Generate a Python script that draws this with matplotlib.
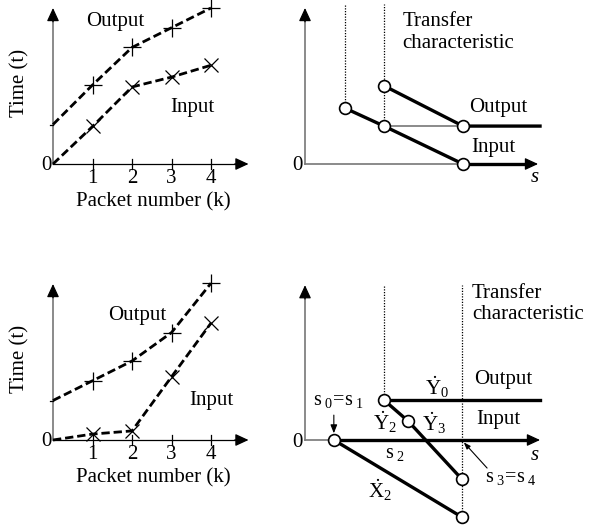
import matplotlib
matplotlib.use("Agg")
import matplotlib.pyplot as plt

plt.rcParams['font.family'] = ['Liberation Serif', 'DejaVu Serif']
plt.rcParams['mathtext.fontset'] = 'custom'
plt.rcParams['mathtext.rm'] = 'Liberation Serif'
plt.rcParams['mathtext.it'] = 'Liberation Serif:italic'

# packet number vs time (left panels)
k = [0, 1, 2, 3, 4]
out_top = [1.0, 2.0, 2.95, 3.45, 3.95]
in_top = [0.0, 0.95, 1.95, 2.2, 2.5]
out_bot = [1.0, 1.5, 2.0, 2.72, 3.97]
in_bot = [0.0, 0.15, 0.23, 1.6, 2.96]
k_ticks = [1, 2, 3, 4]

# transfer characteristic, top right
tr_in_s = [1.0, 2.0, 4.0]
tr_in_y = [1.42, 0.96, 0.0]
tr_out_s = [2.0, 4.0]
tr_out_y = [1.98, 0.96]

# transfer characteristic, bottom right
br_s0 = 0.73
br_out_s = [2.0]
br_out_y = [1.01]
br_y_s = [2.0, 2.61, 3.97]
br_y_y = [1.01, 0.48, -0.99]
br_x_s = [0.73, 3.97]
br_x_y = [0.0, -1.95]

W, H = 589, 529
U = 39.5  # px per unit
fig = plt.figure(figsize=(W / 100, H / 100), dpi=100)

FS = 15
GRAY = '#777777'


def panel(x0, y0, w, h, ox, oy):
    ax = fig.add_axes([x0 / W, 1 - (y0 + h) / H, w / W, h / H])
    ax.set_xlim((x0 - ox) / U, (x0 + w - ox) / U)
    ax.set_ylim((oy - (y0 + h)) / U, (oy - y0) / U)
    ax.axis('off')
    return ax


def arrowhead(ax, x0, y0, x1, y1, color='black'):
    ax.annotate('', xy=(x1, y1), xytext=(x0, y0),
                arrowprops=dict(arrowstyle='-|>,head_length=0.8,head_width=0.37',
                                mutation_scale=10, color=color, lw=0.9,
                                shrinkA=0, shrinkB=0), annotation_clip=False)


def left_panel(ax, out, inp, out_lab, in_lab):
    ax.plot([0, 0], [0, 3.7], color=GRAY, lw=1.2)
    arrowhead(ax, 0, 3.6, 0, 3.95)
    ax.plot([0, 4.7], [0, 0], color='black', lw=0.9)
    arrowhead(ax, 4.6, 0, 4.95, 0)
    for t in k_ticks:
        ax.plot([t, t], [-0.13, 0.13], color='black', lw=0.9)
        ax.text(t, -0.36, str(t), ha='center', va='center', fontsize=FS)
    ax.plot([-0.08, 0.0], [1.0, 1.0], color='black', lw=0.9)
    ax.text(-0.04, -0.04, '0', ha='right', va='center', fontsize=FS)
    ax.plot(k, out, color='black', lw=2.0, dashes=(3, 1.4))
    ax.plot(k, inp, color='black', lw=2.0, dashes=(3, 1.4))
    ax.plot(k[1:], out[1:], ls='none', marker='+', ms=13, mew=0.9, color='black')
    ax.plot(k[1:], inp[1:], ls='none', marker='x', ms=10, mew=0.9, color='black')
    ax.text(-0.84, 2.05, 'Time (t)', rotation=90, ha='center', va='center', fontsize=FS)
    ax.text(2.53, -0.96, 'Packet number (k)', ha='center', va='center', fontsize=FS)
    ax.text(out_lab[0], out_lab[1], 'Output', ha='center', va='center', fontsize=FS)
    ax.text(in_lab[0], in_lab[1], 'Input', ha='center', va='center', fontsize=FS)


circ = dict(ls='none', marker='o', ms=8.5, mfc='white', mec='black', mew=1.2, zorder=5)

# top left
ax1 = panel(0, 0, 290, 220, 53, 164)
left_panel(ax1, out_top, in_top, (1.57, 3.62), (3.52, 1.44))

# bottom left
ax3 = panel(0, 250, 290, 279, 53, 440)
left_panel(ax3, out_bot, in_bot, (2.13, 3.16), (4.0, 1.01))

# top right
ax2 = panel(290, 0, 299, 220, 305, 164)
ax2.plot([0, 0], [0, 3.7], color=GRAY, lw=1.2)
arrowhead(ax2, 0, 3.6, 0, 3.95)
ax2.plot([0, tr_in_s[-1]], [0, 0], color=GRAY, lw=1.2)
ax2.plot([tr_in_s[-1], 5.6], [0, 0], color='black', lw=2.4)
arrowhead(ax2, 5.5, 0, 5.9, 0)
ax2.plot([tr_in_s[0]] * 2, [tr_in_y[0], 4.05], color='black', lw=0.9, dashes=(1, 1.2))
ax2.plot([tr_out_s[0]] * 2, [tr_in_y[1], 4.05], color='black', lw=0.9, dashes=(1, 1.2))
ax2.plot([tr_in_s[1], tr_out_s[1]], [tr_in_y[1], tr_out_y[1]], color=GRAY, lw=1.2)
ax2.plot(tr_in_s, tr_in_y, color='black', lw=2.4)
ax2.plot(tr_out_s + [5.95], tr_out_y + [tr_out_y[-1]], color='black', lw=2.4)
ax2.plot(tr_in_s, tr_in_y, **circ)
ax2.plot(tr_out_s, tr_out_y, **circ)
ax2.text(-0.05, -0.04, '0', ha='right', va='center', fontsize=FS)
ax2.text(5.82, -0.33, 's', ha='center', va='center', fontsize=FS, style='italic')
ax2.text(2.46, 3.33, 'Transfer\ncharacteristic', ha='left', va='center',
         fontsize=FS, linespacing=1.15)
ax2.text(4.89, 1.42, 'Output', ha='center', va='center', fontsize=FS)
ax2.text(4.76, 0.41, 'Input', ha='center', va='center', fontsize=FS)

# bottom right
ax4 = panel(290, 250, 299, 279, 305, 440)
ax4.plot([0, 0], [0, 3.67], color=GRAY, lw=1.2)
arrowhead(ax4, 0, 3.57, 0, 3.92)
ax4.plot([0, br_s0], [0, 0], color=GRAY, lw=1.2)
ax4.plot([br_s0, 5.6], [0, 0], color='black', lw=2.4)
arrowhead(ax4, 5.55, 0, 5.95, 0)
ax4.plot([br_y_s[0]] * 2, [br_y_y[0], 3.92], color='black', lw=0.9, dashes=(1, 1.2))
ax4.plot([br_y_s[-1]] * 2, [br_x_y[-1], 3.92], color='black', lw=0.9, dashes=(1, 1.2))
ax4.plot(br_out_s + [5.95], br_out_y + [br_out_y[0]], color='black', lw=2.4)
ax4.plot(br_y_s, br_y_y, color='black', lw=2.4)
ax4.plot(br_x_s, br_x_y, color='black', lw=2.4)
ax4.plot(br_y_s, br_y_y, **circ)
ax4.plot(br_x_s, br_x_y, **circ)
ax4.text(-0.05, -0.06, '0', ha='right', va='center', fontsize=FS)
ax4.text(5.82, -0.38, 's', ha='center', va='center', fontsize=FS, style='italic')
ax4.text(4.23, 3.45, 'Transfer\ncharacteristic', ha='left', va='center',
         fontsize=FS, linespacing=1.15)
ax4.text(5.01, 1.52, 'Output', ha='center', va='center', fontsize=FS)
ax4.text(4.89, 0.53, 'Input', ha='center', va='center', fontsize=FS)
ax4.text(3.34, 1.34, r'$\dot{\mathrm{Y}}_0$', ha='center', va='center', fontsize=FS)
ax4.text(2.02, 0.46, r'$\dot{\mathrm{Y}}_2$', ha='center', va='center', fontsize=FS)
ax4.text(3.27, 0.43, r'$\dot{\mathrm{Y}}_3$', ha='center', va='center', fontsize=FS)
ax4.text(1.9, -1.27, r'$\dot{\mathrm{X}}_2$', ha='center', va='center', fontsize=FS)
ax4.text(0.84, 1.01, r'$\mathrm{s}_{\ 0}\!=\!\mathrm{s}_{\ 1}$', ha='center', va='center', fontsize=14.5)
ax4.text(2.28, -0.33, r'$\mathrm{s}_{\ 2}$', ha='center', va='center', fontsize=14.5)
ax4.text(5.22, -0.96, r'$\mathrm{s}_{\ 3}\!=\!\mathrm{s}_{\ 4}$', ha='center', va='center', fontsize=14.5)
ax4.annotate('', xy=(br_s0, 0.17), xytext=(br_s0, 0.63),
             arrowprops=dict(arrowstyle='-|>,head_length=0.5,head_width=0.2',
                             mutation_scale=10, color='black', lw=0.8,
                             shrinkA=0, shrinkB=0))
ax4.annotate('', xy=(br_y_s[-1] + 0.05, -0.06), xytext=(4.61, -0.71),
             arrowprops=dict(arrowstyle='-|>,head_length=0.4,head_width=0.15',
                             mutation_scale=10, color='black', lw=0.8,
                             shrinkA=0, shrinkB=0))

fig.savefig('out.png', dpi=100)
